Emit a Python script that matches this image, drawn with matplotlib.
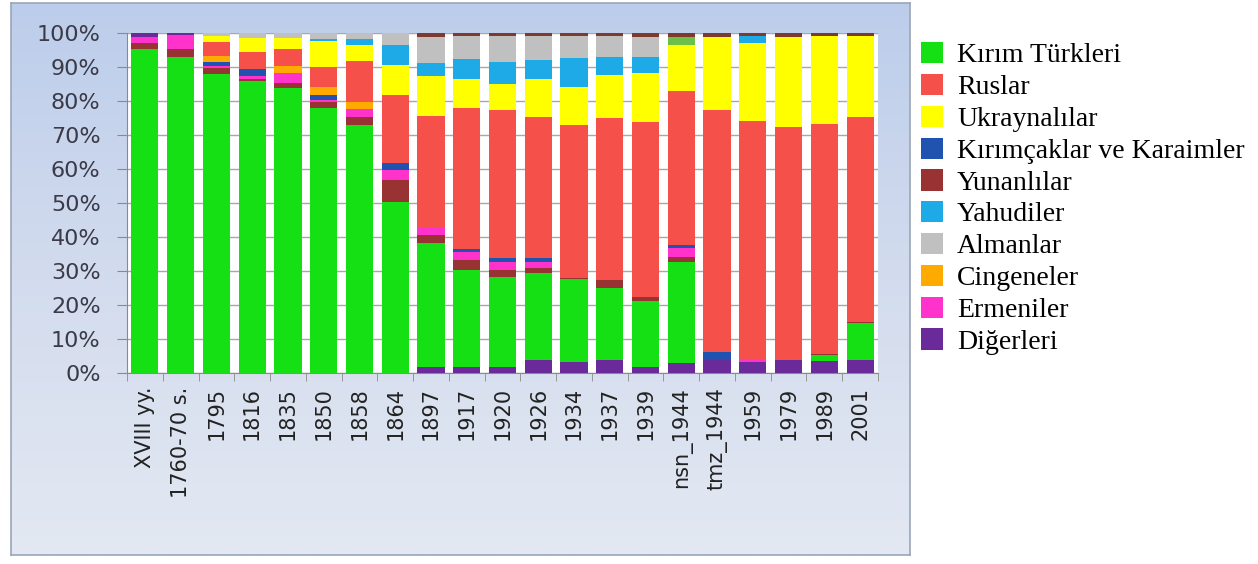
import matplotlib
matplotlib.use("Agg")
import matplotlib.pyplot as plt
import matplotlib.patches as mpatches
from matplotlib.colors import LinearSegmentedColormap
import numpy as np
import pandas as pd

# kategoriler (x ekseni)
categories = ["XVIII yy.", "1760-70 s.", "1795", "1816", "1835", "1850", "1858", "1864",
              "1897", "1917", "1920", "1926", "1934", "1937", "1939", "nsn_1944",
              "tmz_1944", "1959", "1979", "1989", "2001"]

# yuzdeler, alttan uste dogru
diger = [0, 0, 0, 0, 0, 0, 0, 0, 1.8, 1.8, 1.8, 3.8, 3.3, 3.8, 1.9, 2.9, 3.7, 3.3, 3.8, 3.6, 3.8]
kirim = [95.4, 92.8, 87.9, 86.0, 83.8, 77.9, 72.9, 50.4, 36.3, 28.4, 26.3, 25.5, 24.5, 21.1, 19.4, 29.8, 0, 0, 0, 1.6, 10.9]
yunan = [1.6, 2.5, 2.0, 0.5, 1.5, 2.0, 2.4, 6.4, 2.4, 2.9, 2.2, 1.5, 0.3, 2.5, 1.2, 1.5, 0, 0, 0, 0.3, 0.3]
ermeni = [1.9, 4.1, 0.6, 1.0, 2.9, 0.6, 2.4, 2.9, 2.0, 2.5, 2.4, 2.0, 0, 0, 0, 2.5, 0, 0.8, 0, 0, 0]
kirimcak = [0, 0, 1.2, 2.0, 0, 1.3, 0, 2.0, 0, 1.0, 1.0, 1.0, 0, 0, 0, 1.0, 2.4, 0, 0, 0, 0]
cingene = [0, 0, 1.5, 0, 2.0, 2.5, 2.0, 0, 0, 0, 0, 0, 0, 0, 0, 0, 0, 0, 0, 0, 0]
rus = [0, 0, 4.2, 4.9, 5.1, 5.9, 12.3, 20.1, 33.0, 41.2, 43.6, 41.6, 44.8, 47.6, 51.5, 45.1, 71.3, 70.1, 68.6, 67.6, 60.3]
ukrayna = [0, 0, 1.7, 4.2, 3.2, 7.4, 4.7, 8.8, 11.8, 8.8, 7.8, 11.3, 11.3, 12.7, 14.2, 13.5, 21.4, 23.0, 26.5, 26.0, 23.7]
yahudi = [0, 0, 0, 0, 0, 0.7, 1.7, 5.9, 3.7, 5.9, 6.4, 5.4, 8.4, 5.4, 4.9, 0, 0, 1.8, 0, 0, 0]
alman = [0, 0, 1.0, 1.4, 1.5, 1.8, 1.7, 3.6, 7.8, 6.6, 7.6, 7.1, 6.6, 6.1, 5.9, 0, 0, 0, 0, 0, 0]
# ustteki ince parcalar (lejantta yok)
ust_yesil = [0, 0, 0, 0, 0, 0, 0, 0, 0, 0, 0, 0, 0, 0, 0, 2.4, 0, 0, 0, 0, 0]
ust_kahve = [0, 0, 0, 0, 0, 0, 0, 0, 1.1, 0.9, 0.9, 0.9, 0.9, 0.9, 1.1, 1.2, 1.1, 1.0, 1.1, 0.9, 1.0]
ust_mor = [1.1, 0.6, 0, 0, 0, 0, 0, 0, 0, 0, 0, 0, 0, 0, 0, 0, 0, 0, 0, 0, 0]

colors = {
    "Diğerleri": "#6A2A9A",
    "Kırım Türkleri": "#14E014",
    "Yunanlılar": "#993333",
    "Ermeniler": "#FF33CC",
    "Kırımçaklar ve Karaimler": "#2052B0",
    "Cingeneler": "#FFAA00",
    "Ruslar": "#F5504A",
    "Ukraynalılar": "#FFFF00",
    "Yahudiler": "#1EAAE6",
    "Almanlar": "#C0C0C0",
    "ust_yesil": "#6CC04A",
    "ust_kahve": "#7E3A2C",
    "ust_mor": "#6A2A9A",
}

legend_order = ["Kırım Türkleri", "Ruslar", "Ukraynalılar", "Kırımçaklar ve Karaimler",
                "Yunanlılar", "Yahudiler", "Almanlar", "Cingeneler", "Ermeniler", "Diğerleri"]


def make_frame():
    df = pd.DataFrame({
        "Diğerleri": diger,
        "Kırım Türkleri": kirim,
        "Yunanlılar": yunan,
        "Ermeniler": ermeni,
        "Kırımçaklar ve Karaimler": kirimcak,
        "Cingeneler": cingene,
        "Ruslar": rus,
        "Ukraynalılar": ukrayna,
        "Yahudiler": yahudi,
        "Almanlar": alman,
        "ust_yesil": ust_yesil,
        "ust_kahve": ust_kahve,
        "ust_mor": ust_mor,
    }, index=categories)
    # %100 yigilmis sutun
    df = df.div(df.sum(axis=1), axis=0) * 100
    return df


def draw_background(fig):
    # grafik alaninin acik mavi zemini
    W, H = 1258, 564
    bg = fig.add_axes([11 / W, 1 - 555 / H, (910 - 11) / W, (555 - 3) / H], zorder=-5)
    cmap = LinearSegmentedColormap.from_list("bg", ["#BCCDEB", "#D3DCEE", "#E3E8F2"])
    grad = np.linspace(0, 1, 256).reshape(-1, 1)
    bg.imshow(grad, aspect="auto", cmap=cmap, extent=[0, 1, 0, 1], origin="upper")
    bg.set_xticks([])
    bg.set_yticks([])
    for sp in bg.spines.values():
        sp.set_color("#9AA6B8")
        sp.set_linewidth(1.2)


def main():
    df = make_frame()
    W, H = 1258, 564
    fig = plt.figure(figsize=(12.58, 5.64), dpi=100)
    fig.patch.set_facecolor("white")
    draw_background(fig)

    ax = fig.add_axes([127 / W, 1 - 373 / H, (878 - 127) / W, (373 - 33) / H])
    ax.set_facecolor("white")

    x = np.arange(len(categories))
    bottom = np.zeros(len(categories))
    for col in df.columns:
        vals = df[col].values
        ax.bar(x, vals, width=0.76, bottom=bottom, color=colors[col], linewidth=0, zorder=3)
        bottom = bottom + vals

    ax.set_xlim(-0.5, len(categories) - 0.5)
    ax.set_ylim(0, 100)

    # y ekseni
    ax.set_yticks(np.arange(0, 101, 10))
    ax.set_yticklabels(["{}%".format(v) for v in range(0, 101, 10)])
    ax.tick_params(axis="y", length=7, color="#8A8A8A", labelsize=16, labelcolor="#3A3A48", pad=12)
    ax.yaxis.grid(True, color="#A8A8A8", linewidth=1, zorder=0)

    # x ekseni
    ax.set_xticks(x)
    ax.set_xticklabels(categories, rotation=90, fontsize=15, color="#222222")
    ax.tick_params(axis="x", length=0, pad=10)
    ax.set_xticks(np.arange(-0.5, len(categories), 1), minor=True)
    ax.tick_params(axis="x", which="minor", length=6, color="#8A8A8A")

    for side in ["top", "right"]:
        ax.spines[side].set_visible(False)
    ax.spines["left"].set_color("#8A8A8A")
    ax.spines["bottom"].set_color("#8A8A8A")

    # lejant
    handles = [mpatches.Patch(facecolor=colors[name], edgecolor="none") for name in legend_order]
    fig.legend(handles, legend_order, loc="upper left", bbox_to_anchor=(921 / W, 1 - 42 / H),
               frameon=False, prop={"family": "Liberation Serif", "size": 20},
               handlelength=0.8, handleheight=0.8, handletextpad=0.5, labelspacing=0.2,
               borderaxespad=0, borderpad=0)

    fig.savefig("out.png", dpi=100)
    print("save : out.png")
    return 0


if __name__ == "__main__":
    main()
